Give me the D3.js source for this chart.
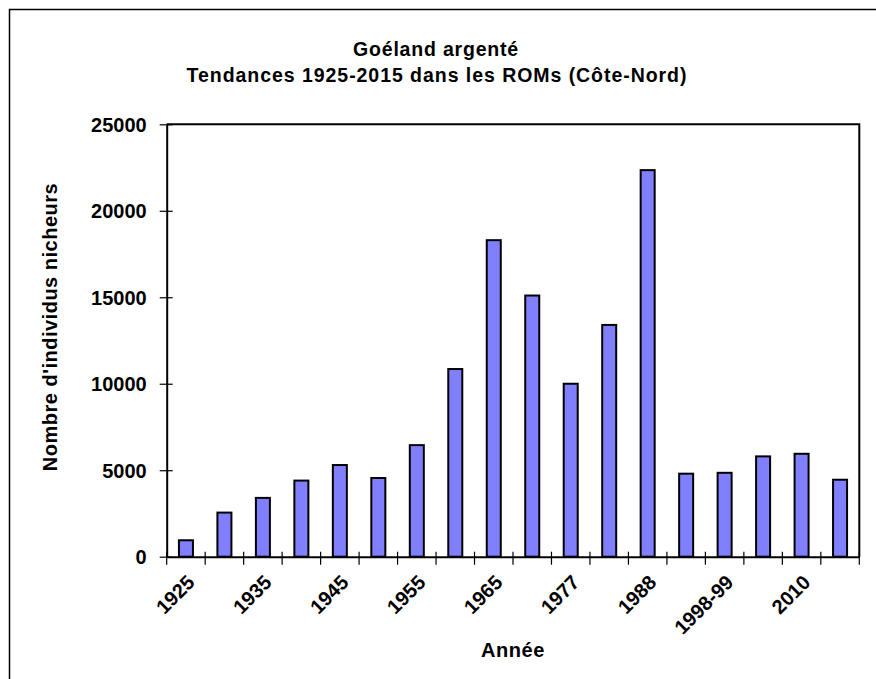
<!DOCTYPE html>
<html><head><meta charset="utf-8">
<script src="https://cdn.jsdelivr.net/npm/d3@7"></script>
<style>
html,body{margin:0;padding:0;background:#fff;}
svg{display:block;}
text{font-family:"Liberation Sans",Arial,sans-serif;font-weight:bold;fill:#000;}
</style></head>
<body>
<svg id="chart" width="876" height="679"></svg>
<script>
const categories = ["1925","1930","1935","1940","1945","1950","1955","1960","1965","1972","1977","1982","1988","1993","1998-99","2005","2010","2015"];
const values = [950,2550,3400,4400,5300,4550,6450,10850,18300,15100,10000,13400,22350,4800,4850,5800,5950,4450];
const tickLabels = ["1925","1935","1945","1955","1965","1977","1988","1998-99","2010"];
const yTicks = [0,5000,10000,15000,20000,25000];
const titleLines = ["Goéland argenté","Tendances 1925-2015 dans les ROMs (Côte-Nord)"];
const xTitle = "Année";
const yTitle = "Nombre d'individus  nicheurs";

const svg = d3.select("#chart");
const L = 166.7, T = 124.3, W = 692.6, H = 432.4;

// outer frame
svg.append("rect").attr("x",9.5).attr("y",9.5).attr("width",900).attr("height",700)
  .attr("fill","none").attr("stroke","#000").attr("stroke-width",1.5);

const x = d3.scaleBand().domain(categories).range([L, L+W]).paddingInner(0.636).paddingOuter(0.318);
const y = d3.scaleLinear().domain([0,25000]).range([T+H, T]);

// bars
svg.append("g").selectAll("rect").data(categories).join("rect")
  .attr("x", d => x(d))
  .attr("y", (d,i) => y(values[i]))
  .attr("width", x.bandwidth())
  .attr("height", (d,i) => y(0) - y(values[i]))
  .attr("fill","#8080ff").attr("stroke","#000").attr("stroke-width",2);

// plot frame (top & right)
svg.append("path").attr("d", `M${L},${T}H${L+W}V${T+H}`).attr("fill","none").attr("stroke","#000").attr("stroke-width",2);

// y axis
const yAxis = d3.axisLeft(y).tickValues(yTicks).tickSize(0).tickFormat(d3.format("d"));
const gy = svg.append("g").attr("transform",`translate(${L},0)`).call(yAxis);
gy.select(".domain").attr("stroke","#000").attr("stroke-width",2);
gy.selectAll(".tick line").attr("x1",-7).attr("x2",6).attr("stroke","#000").attr("stroke-width",1.2);
gy.selectAll(".tick text").attr("x",-20).attr("dy","0.36em").style("font-size","20px").attr("font-family",null);

// x axis
const step = x.step();
const xAxis = d3.axisBottom(x).tickSize(0).tickFormat(d => tickLabels.includes(d) ? d : "");
const gx = svg.append("g").attr("transform",`translate(0,${T+H})`).call(xAxis);
gx.select(".domain").attr("stroke","#000").attr("stroke-width",2);
gx.selectAll(".tick line").remove();
// boundary ticks
const bounds = d3.range(categories.length+1).map(i => L + i*step);
gx.selectAll(".bt").data(bounds).join("line").attr("class","bt")
  .attr("x1",d=>d).attr("x2",d=>d).attr("y1",-5).attr("y2",8).attr("stroke","#000").attr("stroke-width",1.2);
gx.selectAll(".tick text")
  .attr("y",0).attr("dy",0)
  .attr("text-anchor","end")
  .attr("transform","translate(10,27) rotate(-45)")
  .style("font-size","20px").attr("font-family",null);

// titles
svg.append("text").attr("x",436).attr("y",56).attr("text-anchor","middle").style("font-size","19.5px").style("letter-spacing","0.8px").text(titleLines[0]);
svg.append("text").attr("x",437).attr("y",81.7).attr("text-anchor","middle").style("font-size","19.5px").style("letter-spacing","0.95px").text(titleLines[1]);
svg.append("text").attr("x",L+W/2).attr("y",657).attr("text-anchor","middle").style("font-size","20px").style("letter-spacing","0.6px").text(xTitle);
svg.append("text").attr("transform","translate(57,327) rotate(-90)").attr("text-anchor","middle").style("font-size","20px").style("letter-spacing","0.5px").text(yTitle);
</script>
</body></html>
